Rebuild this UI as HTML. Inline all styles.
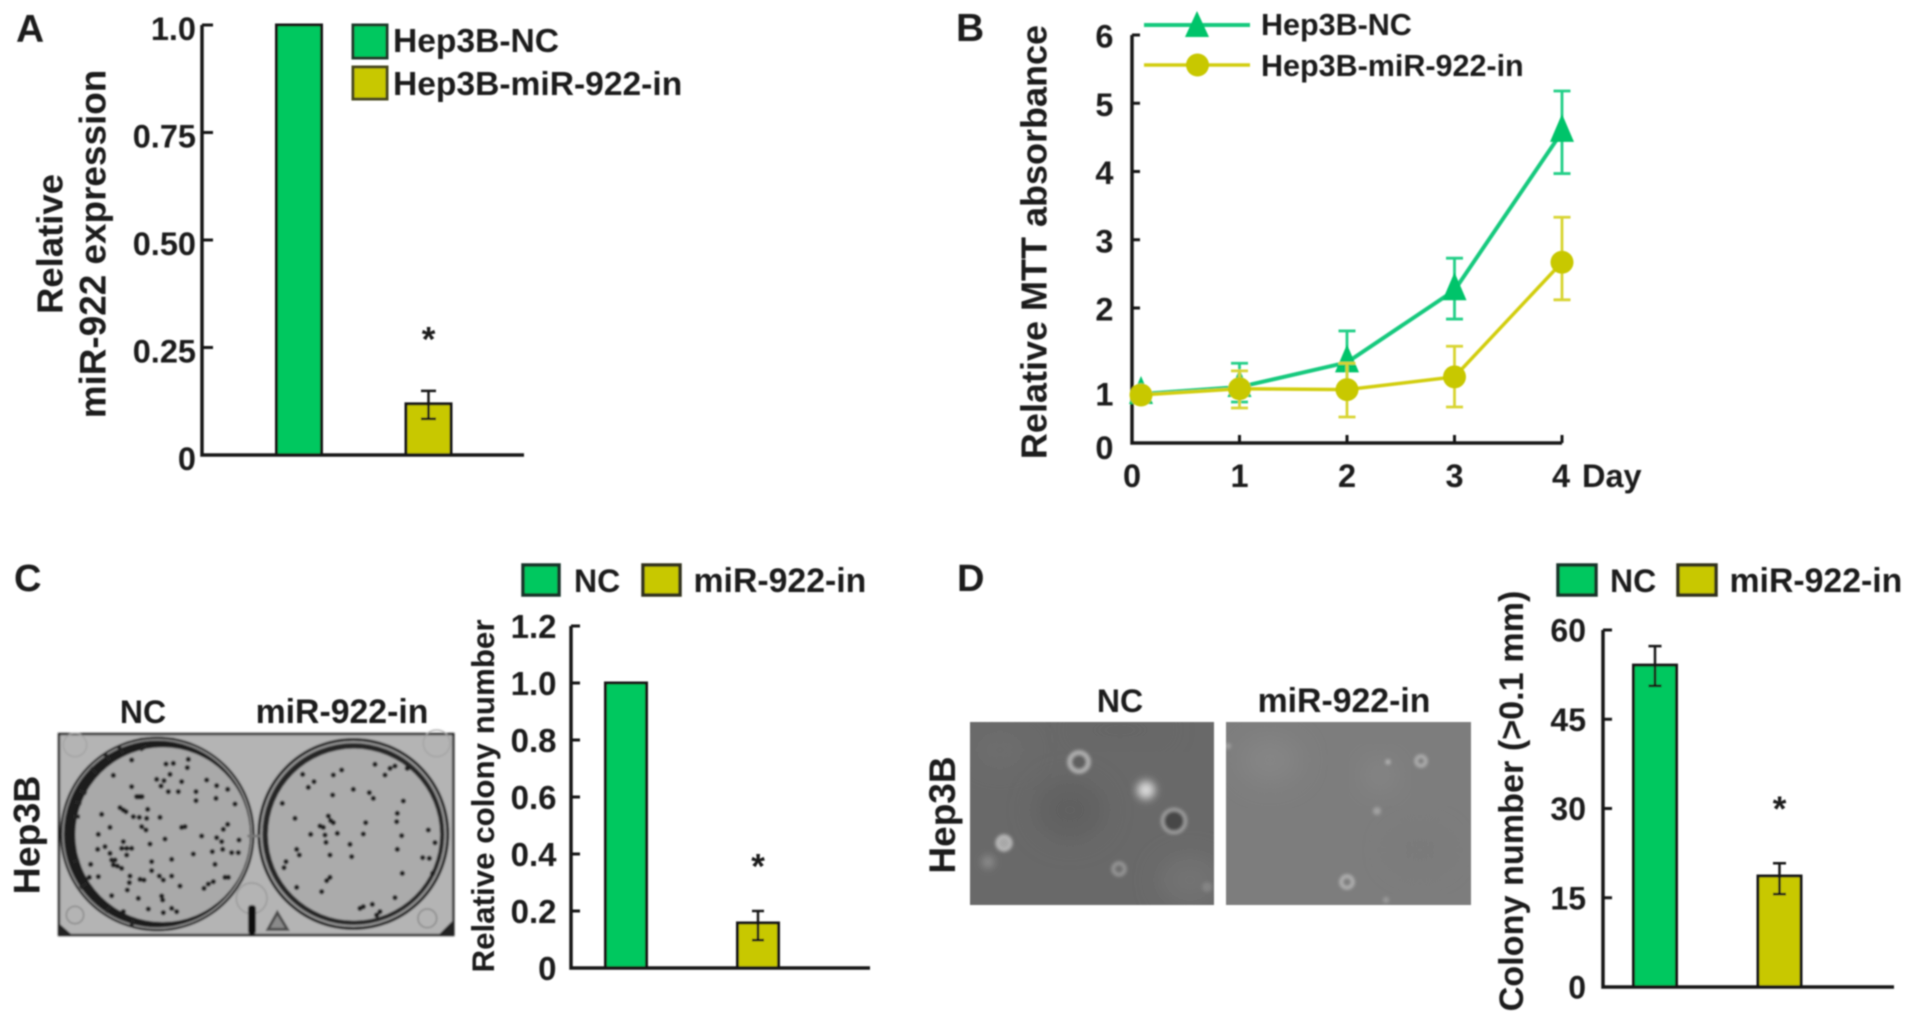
<!DOCTYPE html>
<html lang="en">
<head>
<meta charset="utf-8">
<title>miR-922 figure panels A-D</title>
<style>
html,body{margin:0;padding:0;background:#fff;width:1913px;height:1023px;overflow:hidden}
svg{position:absolute;left:0;top:0;display:block}
text{font-family:"Liberation Sans",sans-serif;font-weight:bold;fill:#1a1a1a}
</style>
</head>
<body>
<svg id="figure" xmlns="http://www.w3.org/2000/svg" width="1913" height="1023" viewBox="0 0 1913 1023">
<defs>
<filter id="soft" x="-2%" y="-2%" width="104%" height="104%"><feGaussianBlur stdDeviation="0.7"/></filter>
<filter id="photoBlur" x="-5%" y="-5%" width="110%" height="110%"><feGaussianBlur stdDeviation="1.5"/></filter>
<filter id="plateBlur" x="-5%" y="-5%" width="110%" height="110%"><feGaussianBlur stdDeviation="2.4"/></filter>
<filter id="wide" x="-60%" y="-60%" width="220%" height="220%"><feGaussianBlur stdDeviation="14"/></filter>
<filter id="mid" x="-60%" y="-60%" width="220%" height="220%"><feGaussianBlur stdDeviation="4"/></filter>
<clipPath id="clipD1"><rect x="970" y="722" width="244" height="183"/></clipPath>
<clipPath id="clipD2"><rect x="1226" y="722" width="245" height="183"/></clipPath>
</defs>
<g id="art" filter="url(#soft)">

<text x="16" y="42" font-size="39">A</text>
<text x="956" y="41" font-size="39">B</text>
<text x="14" y="591" font-size="38">C</text>
<text x="957" y="591" font-size="38">D</text>

<g>
<text transform="translate(62.5,244) rotate(-90)" text-anchor="middle" font-size="36.5">Relative</text>
<text transform="translate(105.5,244) rotate(-90)" text-anchor="middle" font-size="36.9">miR-922 expression</text>
</g>
<g>
<rect x="353" y="25" width="34" height="33" fill="#00c85f" stroke="#1c3a2a" stroke-width="3"/>
<text x="393" y="52" font-size="33.6">Hep3B-NC</text>
<rect x="353" y="67" width="34" height="32" fill="#c8c800" stroke="#4a4a1a" stroke-width="3"/>
<text x="393" y="95" font-size="33.6">Hep3B-miR-922-in</text>
</g>

<g>
<text transform="translate(1046.5,242) rotate(-90)" text-anchor="middle" font-size="36">Relative MTT absorbance</text>
</g>
<g>
<line x1="1144" y1="25" x2="1250" y2="25" stroke="#12c97e" stroke-width="4"/>
<polygon points="1197,11 1209,37 1185,37" fill="#00c46a"/>
<text x="1261" y="35" font-size="30.5">Hep3B-NC</text>
<line x1="1144" y1="65" x2="1250" y2="65" stroke="#d2ce10" stroke-width="3.5"/>
<circle cx="1197.5" cy="65" r="11.5" fill="#c8c800"/>
<text x="1261" y="76" font-size="30.5">Hep3B-miR-922-in</text>
</g>
<text x="1582" y="487" font-size="32.5">Day</text>

<g>
<text x="143" y="723" text-anchor="middle" font-size="32">NC</text>
<text x="342" y="723" text-anchor="middle" font-size="33.8">miR-922-in</text>
<text transform="translate(39.5,835) rotate(-90)" text-anchor="middle" font-size="37.5">Hep3B</text>
<g transform="translate(0,540) scale(0.33333)" filter="url(#plateBlur)">
<rect x="177" y="582" width="1183" height="603" fill="#b4b4b4" stroke="#151515" stroke-width="7"/>
<circle cx="225" cy="615" r="35" fill="none" stroke="#a2a2a2" stroke-width="4"/>
<circle cx="1310" cy="610" r="40" fill="none" stroke="#a2a2a2" stroke-width="4"/>
<circle cx="225" cy="1125" r="26" fill="none" stroke="#8e8e8e" stroke-width="5"/>
<circle cx="1282" cy="1135" r="28" fill="none" stroke="#8e8e8e" stroke-width="5"/>
<circle cx="755" cy="1075" r="46" fill="none" stroke="#9c9c9c" stroke-width="5"/>
<rect x="744" y="1095" width="24" height="88" rx="10" fill="#111"/>
<polygon points="832,1118 862,1168 804,1168" fill="#8a8a8a" stroke="#4c4c4c" stroke-width="9"/>
<path d="M177 1185l40 0-40-35zM1360 1185l-45 0 45-45z" fill="#222"/>
<circle cx="472" cy="882" r="292" fill="#1e1e1e"/>
<circle cx="472" cy="882" r="283" fill="none" stroke="#8e8e8e" stroke-width="5"/>
<circle cx="488" cy="884" r="262" fill="#a9a9a9"/>
<path d="M260 760l-22 -8M245 790l-20 -4M240 830l-22 0M420 630l20 -12M370 640l-14 -20M330 660l-16 -18M290 700l-18 -16M238 960l-20 6M260 1030l-20 14M330 1100l-14 16M400 1140l-6 18" stroke="#222" stroke-width="12" fill="none"/>
<circle cx="1060" cy="882" r="288" fill="#262626"/>
<circle cx="1060" cy="882" r="276" fill="none" stroke="#9a9a9a" stroke-width="6"/>
<circle cx="1062" cy="884" r="258" fill="#ababab"/>
<rect x="742" y="884" width="40" height="8" fill="#777"/>
<path fill="none" stroke="#1e1e1e" stroke-width="16" stroke-linecap="round" d="M395 660h0M520 670h0M498 672h0M565 658h0M562 683h0M510 703h0M340 706h0M470 718h0M492 722h0M483 738h0M545 725h0M620 720h0M650 737h0M683 748h0M395 740h0M410 770h16M505 755h0M535 755h0M588 755h0M588 782h0M648 775h0M705 792h0M360 803h0M378 815h0M370 810h0M443 808h0M305 823h0M400 830h0M418 832h0M440 835h0M480 832h0M330 862h0M425 860h0M438 870h0M545 862h0M555 860h0M683 853h0M670 868h0M295 883h0M495 897h0M605 888h0M650 893h0M665 905h0M717 900h0M370 905h0M315 920h0M293 928h0M365 925h0M380 925h0M395 925h0M450 912h0M668 928h0M637 935h0M580 942h0M695 938h0M715 938h0M330 940h0M380 945h0M335 960h0M345 960h0M455 965h0M515 958h0M272 973h0M340 975h0M352 978h0M365 985h0M645 973h0M455 992h0M295 1010h0M268 1012h0M390 1008h0M478 1008h0M420 1018h0M432 1020h0M490 1020h0M515 1008h0M388 1028h0M540 1038h0M640 1025h0M625 1032h0M612 1045h0M382 1050h0M485 1068h0M488 1080h0M415 1075h0M335 1067h0M445 1107h0M490 1118h0M515 1105h0M530 1115h0M370 1115h0M675 1012h0M685 1012h0"/>
<path fill="none" stroke="#1e1e1e" stroke-width="16" stroke-linecap="round" d="M908 703h0M942 725h0M925 742h0M1000 705h0M1025 690h0M1125 673h0M1185 678h0M1170 685h0M1155 705h0M1222 685h0M1060 748h0M998 765h0M1108 758h0M1120 775h0M847 790h0M1210 783h0M985 828h0M992 842h0M1000 848h0M885 835h0M1192 820h0M1097 848h0M1190 845h0M960 858h0M970 862h0M932 883h0M975 885h0M1012 880h0M1090 882h0M1205 887h0M1285 870h0M1305 908h0M978 907h0M1050 913h0M890 928h0M1192 928h0M898 945h0M990 945h0M1055 950h0M858 965h0M852 983h0M1268 953h0M1288 955h0M1207 1000h0M1298 1000h0M990 1012h0M980 1022h0M965 1055h0M890 1042h0M1185 1073h0M1117 1093h0M1090 1100h0M1080 1105h0M1140 1115h0M1130 1125h0"/>
</g>
</g>

<g>
<text x="1120" y="712" text-anchor="middle" font-size="32">NC</text>
<text x="1344" y="712" text-anchor="middle" font-size="33.8">miR-922-in</text>
<text transform="translate(955,815) rotate(-90)" text-anchor="middle" font-size="37">Hep3B</text>
<g clip-path="url(#clipD1)">
<rect x="970" y="722" width="244" height="183" fill="#696969"/>
<ellipse cx="1070" cy="810" rx="35" ry="30" fill="#616161" filter="url(#wide)"/>
<ellipse cx="1190" cy="880" rx="30" ry="22" fill="#747474" filter="url(#wide)"/>
<ellipse cx="1000" cy="750" rx="30" ry="18" fill="#6e6e6e" filter="url(#wide)"/>
<ellipse cx="1120" cy="730" rx="50" ry="10" fill="#646464" filter="url(#wide)"/>
<g filter="url(#photoBlur)">
<circle cx="1079" cy="762" r="9.5" fill="#5e5e5e" stroke="#b2b2b2" stroke-width="4.5"/>
<circle cx="1146" cy="790" r="9" fill="#dcdcdc" filter="url(#mid)"/>
<circle cx="1174" cy="821" r="11.5" fill="#464646" stroke="#a8a8a8" stroke-width="3"/>
<circle cx="1004" cy="843" r="7" fill="#a8a8a8" stroke="#bcbcbc" stroke-width="3"/>
<circle cx="988" cy="862" r="5.5" fill="#989898" filter="url(#mid)"/>
<circle cx="1119" cy="869" r="6" fill="#6e6e6e" stroke="#9c9c9c" stroke-width="3"/>
<circle cx="1207" cy="887" r="5" fill="#848484"/>
</g>
</g>
<g clip-path="url(#clipD2)">
<rect x="1226" y="722" width="245" height="183" fill="#7d7d7d"/>
<ellipse cx="1270" cy="760" rx="30" ry="22" fill="#868686" filter="url(#wide)"/>
<ellipse cx="1380" cy="775" rx="14" ry="14" fill="#8a8a8a" filter="url(#wide)"/>
<ellipse cx="1420" cy="850" rx="30" ry="20" fill="#797979" filter="url(#wide)"/>
<g filter="url(#photoBlur)">
<circle cx="1421" cy="761" r="5" fill="#7c7c7c" stroke="#b6b6b6" stroke-width="3"/>
<circle cx="1388" cy="762" r="2.5" fill="#bcbcbc"/>
<circle cx="1377" cy="811" r="4" fill="#a2a2a2"/>
<circle cx="1347" cy="882" r="6" fill="#7e7e7e" stroke="#bababa" stroke-width="3"/>
<circle cx="1386" cy="900" r="3" fill="#9c9c9c"/>
<circle cx="1228" cy="746" r="3" fill="#a0a0a0"/>
</g>
</g>
</g>

<g>
<rect x="523" y="565" width="36" height="30" fill="#00c85f" stroke="#17352a" stroke-width="3.5"/>
<text x="574" y="592" font-size="32">NC</text>
<rect x="643" y="565" width="37" height="30" fill="#c8c800" stroke="#33331a" stroke-width="3.5"/>
<text x="693.5" y="592" font-size="33.8">miR-922-in</text>
</g>
<text transform="translate(494,796) rotate(-90)" text-anchor="middle" font-size="31.3">Relative colony number</text>

<g>
<rect x="1558" y="565" width="38" height="30" fill="#00c85f" stroke="#17352a" stroke-width="3.5"/>
<text x="1610" y="592" font-size="32">NC</text>
<rect x="1678" y="565" width="38" height="30" fill="#c8c800" stroke="#33331a" stroke-width="3.5"/>
<text x="1729.5" y="592" font-size="33.8">miR-922-in</text>
</g>
<text transform="translate(1523,801) rotate(-90)" text-anchor="middle" font-size="34.2">Colony number (&gt;0.1 mm)</text>
</g>
</svg>

<script>
// Panel A: relative miR-922 expression
const panelACategories = ['Hep3B-NC', 'Hep3B-miR-922-in'];
const panelAValues = [1.0, 0.119];
const panelAErrorHigh = [null, 0.149];
const panelAErrorLow = [null, 0.084];
const panelATicks = [0, 0.25, 0.5, 0.75, 1.0];
const panelATickLabels = ['0', '0.25', '0.50', '0.75', '1.0'];

// Panel B: relative MTT absorbance by day
const panelBDays = [0, 1, 2, 3, 4];
const panelBDayLabels = ['0', '1', '2', '3', '4'];
const panelBTicks = [0, 1, 2, 3, 4, 5, 6];
const panelBTickLabels = ['0', '1', '2', '3', '4', '5', '6'];
const panelBNcValues = [0.98, 1.07, 1.36, 2.26, 4.58];
const panelBNcHigh = [1.02, 1.35, 1.73, 2.73, 5.18];
const panelBNcLow = [0.94, 0.82, 1.0, 1.87, 3.97];
const panelBMirValues = [0.96, 1.05, 1.04, 1.19, 2.67];
const panelBMirHigh = [1.0, 1.26, 1.35, 1.55, 3.33];
const panelBMirLow = [0.92, 0.70, 0.52, 0.72, 2.12];

// Panel C: relative colony number
const panelCCategories = ['NC', 'miR-922-in'];
const panelCValues = [1.0, 0.158];
const panelCErrorHigh = [null, 0.2];
const panelCErrorLow = [null, 0.098];
const panelCTicks = [0, 0.2, 0.4, 0.6, 0.8, 1.0, 1.2];
const panelCTickLabels = ['0', '0.2', '0.4', '0.6', '0.8', '1.0', '1.2'];

// Panel D: colony number (>0.1 mm)
const panelDCategories = ['NC', 'miR-922-in'];
const panelDValues = [54.1, 18.65];
const panelDErrorHigh = [57.3, 20.8];
const panelDErrorLow = [50.6, 15.6];
const panelDTicks = [0, 15, 30, 45, 60];
const panelDTickLabels = ['0', '15', '30', '45', '60'];

const SVG_NS = 'http://www.w3.org/2000/svg';
const art = document.getElementById('art');
const BAR_COLORS = ['#00c85f', '#c8c800'];
const INK = '#161616';

function mk(parent, tag, props) {
  const el = document.createElementNS(SVG_NS, tag);
  for (const k in props) el.setAttribute(k, props[k]);
  parent.appendChild(el);
  return el;
}

function drawBarPanel(cfg) {
  const root = mk(art, 'g', {});
  
  
  const y = v => cfg.yBottom - (v - cfg.yMin) / (cfg.yMax - cfg.yMin) * (cfg.yBottom - cfg.yTop);
  const x = i => cfg.firstCenter + i * cfg.centerStep;

  cfg.values.forEach((v, i) => {
    const bar = mk(root, 'rect', {
      x: x(i) - cfg.barWidth / 2,
      y: y(v),
      width: cfg.barWidth,
      height: y(cfg.yMin) - y(v),
      fill: BAR_COLORS[i],
      stroke: INK,
      'stroke-width': 3
    });
    
    

    if (cfg.high[i] !== null) {
      const err = mk(root, 'path', {
        d: 'M' + (x(i) - cfg.cap) + ' ' + y(cfg.high[i]) + 'h' + (2 * cfg.cap) +
           'M' + x(i) + ' ' + y(cfg.high[i]) + 'V' + y(cfg.low[i]) +
           'M' + (x(i) - cfg.cap) + ' ' + y(cfg.low[i]) + 'h' + (2 * cfg.cap),
        fill: 'none',
        stroke: INK,
        'stroke-width': 2.5
      });
      
      
    }
  });

  const axis = mk(root, 'path', {
    d: 'M' + cfg.xAxis + ' ' + y(cfg.yMax) + 'V' + y(cfg.yMin) + 'H' + cfg.xEnd,
    fill: 'none',
    stroke: INK,
    'stroke-width': 3.5
  });
  
  

  cfg.ticks.forEach((t, i) => {
    if (t !== cfg.yMin) {
      const tick = mk(root, 'line', {
        x1: cfg.xAxis,
        x2: cfg.xAxis + cfg.tickLen,
        y1: y(t),
        y2: y(t),
        stroke: INK,
        'stroke-width': 3
      });
      
      
    }
    const label = mk(root, 'text', {
      x: cfg.labelX,
      y: y(t) + cfg.labelDy,
      'text-anchor': 'end',
      'font-size': cfg.labelSize
    });
    label.textContent = cfg.tickLabels[i];
    
    
  });

  const star = mk(root, 'text', {
    x: x(1),
    y: y(cfg.starValue) + 18,
    'text-anchor': 'middle',
    'font-size': 35
  });
  star.textContent = '*';
  
  
}

drawBarPanel({
  name: 'panel-a-bar-chart', categories: panelACategories, values: panelAValues,
  high: panelAErrorHigh, low: panelAErrorLow, ticks: panelATicks, tickLabels: panelATickLabels,
  yMin: 0, yMax: 1, yBottom: 455, yTop: 25, xAxis: 202, xEnd: 524,
  firstCenter: 299, centerStep: 129.5, barWidth: 45, cap: 7.5, tickLen: 11,
  labelX: 196, labelDy: 15, labelSize: 32.5, starValue: 0.283
});
drawBarPanel({
  name: 'panel-c-bar-chart', categories: panelCCategories, values: panelCValues,
  high: panelCErrorHigh, low: panelCErrorLow, ticks: panelCTicks, tickLabels: panelCTickLabels,
  yMin: 0, yMax: 1.2, yBottom: 968, yTop: 626, xAxis: 571, xEnd: 870,
  firstCenter: 626, centerStep: 132, barWidth: 41, cap: 6, tickLen: 9,
  labelX: 556.5, labelDy: 12, labelSize: 33, starValue: 0.377
});
drawBarPanel({
  name: 'panel-d-bar-chart', categories: panelDCategories, values: panelDValues,
  high: panelDErrorHigh, low: panelDErrorLow, ticks: panelDTicks, tickLabels: panelDTickLabels,
  yMin: 0, yMax: 60, yBottom: 987, yTop: 630, xAxis: 1603, xEnd: 1894,
  firstCenter: 1655, centerStep: 124.5, barWidth: 43, cap: 6.5, tickLen: 9,
  labelX: 1586, labelDy: 11.5, labelSize: 32, starValue: 30.9
});

// Panel B line chart: the published axis is compressed unevenly below 2.
const bX0 = 1132;
const bStep = 107.5;
function bx(day) {
  return bX0 + day * bStep;
}
function bxPoint(day) {
  return bx(day) + (day === 0 ? 9 : 0);
}
function by(v) {
  if (v >= 2) return 308 - (v - 2) * 68.25;
  if (v >= 1) return 393 - (v - 1) * 85;
  return 443 - v * 50;
}

const chartB = mk(art, 'g', {});



const axisB = mk(chartB, 'path', {
  d: 'M' + bx(0) + ' ' + by(6) + 'V' + by(0) + 'H' + bx(4),
  fill: 'none',
  stroke: INK,
  'stroke-width': 3.5
});



panelBTicks.forEach((t, i) => {
  if (t !== 0) {
    const tick = mk(chartB, 'line', {
      x1: bx(0), x2: bx(0) + 8, y1: by(t), y2: by(t), stroke: INK, 'stroke-width': 3
    });
    
    
  }
  const label = mk(chartB, 'text', {
    x: 1113.5, y: by(t) + (t === 0 ? 16 : 12.5), 'text-anchor': 'end', 'font-size': 32.5
  });
  label.textContent = panelBTickLabels[i];
  
  
});

panelBDays.forEach((d, i) => {
  if (d !== 0) {
    const tick = mk(chartB, 'line', {
      x1: bx(d), x2: bx(d), y1: by(0), y2: by(0) - 8, stroke: INK, 'stroke-width': 3
    });
    
    
  }
  const label = mk(chartB, 'text', {
    x: bx(d) - (d === 4 ? 1 : 0), y: 487, 'text-anchor': 'middle', 'font-size': 32.5
  });
  label.textContent = panelBDayLabels[i];
  
  
});

function drawSeries(key, values, high, low, lineColor, errColor, markColor, shape, lineWidth) {
  const g = mk(chartB, 'g', {});
  
  

  const line = mk(g, 'polyline', {
    points: values.map((v, i) => bxPoint(panelBDays[i]) + ',' + by(v)).join(' '),
    fill: 'none',
    stroke: lineColor,
    'stroke-width': lineWidth
  });
  
  

  values.forEach((v, i) => {
    const px = bxPoint(panelBDays[i]);
    const err = mk(g, 'path', {
      d: 'M' + (px - 8.5) + ' ' + by(high[i]) + 'h17M' + px + ' ' + by(high[i]) + 'V' + by(low[i]) +
         'M' + (px - 8.5) + ' ' + by(low[i]) + 'h17',
      fill: 'none',
      stroke: errColor,
      'stroke-width': 2.8
    });
    
    

    let marker;
    if (shape === 'triangle') {
      const cy = by(v);
      marker = mk(g, 'polygon', {
        points: px + ',' + (cy - 18) + ' ' + (px + 12) + ',' + (cy + 10) + ' ' + (px - 12) + ',' + (cy + 10),
        fill: markColor
      });
    } else {
      marker = mk(g, 'circle', { cx: px, cy: by(v), r: 11.5, fill: markColor });
    }
    
    
  });
}

drawSeries('hep3b-nc', panelBNcValues, panelBNcHigh, panelBNcLow, '#12c97e', '#22cf87', '#00c46a', 'triangle', 4);
drawSeries('hep3b-mir-922-in', panelBMirValues, panelBMirHigh, panelBMirLow, '#d2ce10', '#d8d430', '#c8c800', 'circle', 3.5);
</script>
</body>
</html>
